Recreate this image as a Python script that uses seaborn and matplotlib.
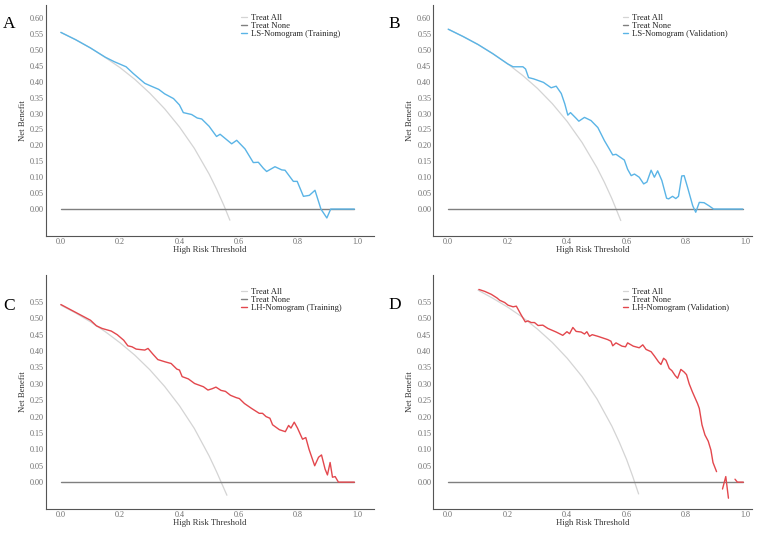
import numpy as np
import pandas as pd
import matplotlib
matplotlib.use("Agg")
import matplotlib.pyplot as plt
import seaborn as sns

# ---- data ------------------------------------------------------------------
# Treat All curves (per panel)
a_all_t = [0, 0.05, 0.1, 0.15, 0.2, 0.25, 0.3, 0.35, 0.4, 0.45, 0.5, 0.525, 0.55, 0.57]
a_all_nb = [0.555, 0.532, 0.506, 0.476, 0.444, 0.407, 0.364, 0.315, 0.258, 0.191, 0.110, 0.063, 0.011, -0.035]
b_all_t = [0, 0.05, 0.1, 0.15, 0.2, 0.25, 0.3, 0.35, 0.4, 0.45, 0.5, 0.525, 0.55, 0.58]
b_all_nb = [0.565, 0.542, 0.517, 0.488, 0.456, 0.420, 0.379, 0.331, 0.275, 0.209, 0.130, 0.084, 0.033, -0.036]
c_all_t = [0, 0.05, 0.1, 0.15, 0.2, 0.25, 0.3, 0.35, 0.4, 0.45, 0.5, 0.525, 0.56]
c_all_nb = [0.540, 0.516, 0.489, 0.459, 0.425, 0.387, 0.343, 0.292, 0.233, 0.164, 0.080, 0.032, -0.040]
d_all_t = [0.1, 0.15, 0.2, 0.25, 0.3, 0.35, 0.4, 0.45, 0.5, 0.55, 0.575, 0.6, 0.62, 0.64]
d_all_nb = [0.586, 0.561, 0.534, 0.503, 0.467, 0.426, 0.378, 0.322, 0.254, 0.171, 0.122, 0.068, 0.018, -0.036]

# Treat None
none_t = [0, 0.99]
none_nb = [0, 0]

# LS-Nomogram (Training)
a_t = [0, 0.05, 0.1, 0.15, 0.18, 0.2, 0.22, 0.244, 0.283, 0.3, 0.33, 0.35, 0.38, 0.4, 0.413,
       0.441, 0.46, 0.475, 0.5, 0.525, 0.537, 0.576, 0.593, 0.621, 0.649, 0.666, 0.683, 0.694,
       0.722, 0.745, 0.756, 0.784, 0.797, 0.818, 0.838, 0.857, 0.877, 0.897, 0.91, 0.95, 0.99]
a_nb = [0.555, 0.532, 0.506, 0.477, 0.463, 0.455, 0.447, 0.426, 0.395, 0.388, 0.376, 0.362, 0.347,
        0.327, 0.303, 0.297, 0.286, 0.283, 0.26, 0.228, 0.235, 0.205, 0.216, 0.189, 0.146, 0.147,
        0.128, 0.118, 0.133, 0.123, 0.122, 0.087, 0.087, 0.040, 0.043, 0.059, 0.0, -0.028, 0.0, 0.0, 0.0]

# LS-Nomogram (Validation)
b_t = [0, 0.05, 0.1, 0.15, 0.2, 0.218, 0.251, 0.26, 0.27, 0.287, 0.305, 0.32, 0.346, 0.363, 0.38,
       0.392, 0.402, 0.411, 0.43, 0.439, 0.458, 0.48, 0.503, 0.525, 0.542, 0.553, 0.564, 0.592,
       0.603, 0.615, 0.626, 0.642, 0.657, 0.668, 0.682, 0.693, 0.704, 0.718, 0.734, 0.741, 0.754,
       0.765, 0.774, 0.785, 0.793, 0.804, 0.822, 0.832, 0.844, 0.86, 0.877, 0.892, 0.95, 0.99]
b_nb = [0.565, 0.542, 0.517, 0.488, 0.456, 0.447, 0.447, 0.44, 0.413, 0.409, 0.403, 0.398, 0.381,
        0.386, 0.363, 0.33, 0.295, 0.303, 0.285, 0.276, 0.288, 0.278, 0.256, 0.215, 0.188, 0.17,
        0.172, 0.154, 0.125, 0.105, 0.11, 0.1, 0.079, 0.085, 0.122, 0.1, 0.12, 0.09, 0.034, 0.032,
        0.04, 0.033, 0.04, 0.104, 0.105, 0.07, 0.01, -0.01, 0.021, 0.02, 0.01, 0.0, 0.0, 0.0]

# LH-Nomogram (Training)
c_t = [0, 0.05, 0.1, 0.12, 0.139, 0.17, 0.19, 0.212, 0.226, 0.24, 0.254, 0.283, 0.294, 0.31, 0.327,
       0.352, 0.372, 0.391, 0.4, 0.409, 0.43, 0.451, 0.481, 0.496, 0.51, 0.523, 0.54, 0.555, 0.572,
       0.591, 0.602, 0.619, 0.643, 0.669, 0.68, 0.692, 0.705, 0.714, 0.737, 0.757, 0.768, 0.776,
       0.787, 0.798, 0.815, 0.826, 0.837, 0.856, 0.869, 0.879, 0.891, 0.899, 0.908, 0.916, 0.925,
       0.936, 0.97, 0.99]
c_nb = [0.542, 0.518, 0.494, 0.477, 0.469, 0.461, 0.45, 0.433, 0.416, 0.413, 0.406, 0.403, 0.408,
        0.391, 0.374, 0.367, 0.362, 0.345, 0.342, 0.322, 0.315, 0.301, 0.291, 0.281, 0.285, 0.29,
        0.28, 0.277, 0.265, 0.258, 0.255, 0.24, 0.225, 0.21, 0.21, 0.2, 0.195, 0.175, 0.16, 0.154,
        0.173, 0.165, 0.183, 0.165, 0.131, 0.136, 0.1, 0.05, 0.076, 0.083, 0.04, 0.022, 0.06, 0.015,
        0.017, 0.0, 0.0, 0.0]

# LH-Nomogram (Validation) -- curve has gaps, seg marks the pieces
d_t = [0.103, 0.123, 0.145, 0.164, 0.173, 0.19, 0.201, 0.218, 0.229, 0.246, 0.259, 0.268, 0.279,
       0.29, 0.302, 0.318, 0.335, 0.363, 0.385, 0.399, 0.408, 0.419, 0.43, 0.447, 0.458, 0.466,
       0.475, 0.484, 0.503, 0.536, 0.547, 0.553, 0.564, 0.584, 0.596, 0.603, 0.622, 0.642, 0.654,
       0.665, 0.682, 0.693, 0.707, 0.715, 0.724, 0.732, 0.743, 0.752, 0.763, 0.771, 0.782, 0.793,
       0.801, 0.81, 0.821, 0.838, 0.844, 0.853, 0.863, 0.874, 0.883, 0.89, 0.902,
       0.922, 0.933, 0.942,
       0.964, 0.972, 0.992]
d_nb = [0.588, 0.582, 0.573, 0.562, 0.555, 0.548, 0.54, 0.535, 0.537, 0.509, 0.489, 0.492, 0.487,
        0.487, 0.478, 0.479, 0.469, 0.458, 0.448, 0.459, 0.453, 0.472, 0.46, 0.458, 0.452, 0.459,
        0.445, 0.45, 0.445, 0.435, 0.43, 0.416, 0.425, 0.415, 0.413, 0.425, 0.415, 0.41, 0.419,
        0.405, 0.398, 0.385, 0.367, 0.359, 0.378, 0.372, 0.347, 0.34, 0.325, 0.317, 0.344, 0.336,
        0.328, 0.3, 0.275, 0.24, 0.225, 0.175, 0.144, 0.125, 0.098, 0.06, 0.032,
        -0.021, 0.017, -0.049,
        0.009, 0.0, 0.0]
d_seg = [0] * 63 + [1] * 3 + [2] * 3

BLUE = "#5AB4E6"
RED = "#E3474D"

# letter, treat-all, model, segments, legend label, colour, axes rect, top tick, letter pos
panels = [
    ("A", a_all_t, a_all_nb, a_t, a_nb, None, "LS-Nomogram (Training)", BLUE,
     [0.060, 0.557, 0.428, 0.433], 0.60, (0.004, 0.955)),
    ("B", b_all_t, b_all_nb, b_t, b_nb, None, "LS-Nomogram (Validation)", BLUE,
     [0.565, 0.557, 0.415, 0.433], 0.60, (0.507, 0.955)),
    ("C", c_all_t, c_all_nb, c_t, c_nb, None, "LH-Nomogram (Training)", RED,
     [0.060, 0.045, 0.428, 0.439], 0.55, (0.004, 0.426)),
    ("D", d_all_t, d_all_nb, d_t, d_nb, d_seg, "LH-Nomogram (Validation)", RED,
     [0.565, 0.045, 0.415, 0.439], 0.55, (0.507, 0.428)),
]

sns.set_style("white")
plt.rcParams["font.family"] = ["Liberation Serif", "DejaVu Serif"]

fig = plt.figure(figsize=(7.67, 5.33), dpi=100)

for letter, all_t, all_nb, mt, mnb, seg, label, color, rect, ytop, lpos in panels:
    ax = fig.add_axes(rect)

    sns.lineplot(x=all_t, y=all_nb, ax=ax, color="#d4d4d4", linewidth=0.9, label="Treat All")
    sns.lineplot(x=none_t, y=none_nb, ax=ax, color="#7f7f7f", linewidth=1.0, label="Treat None")

    df = pd.DataFrame({"t": mt, "nb": mnb, "seg": seg if seg is not None else [0] * len(mt)})
    first = True
    for _, g in df.groupby("seg"):
        sns.lineplot(data=g, x="t", y="nb", ax=ax, color=color, linewidth=1.0,
                     sort=False, estimator=None, label=label if first else None)
        first = False

    ax.set_xlim(-0.05, 1.057 if rect[2] > 0.42 else 1.02)
    if ytop == 0.60:
        ax.set_ylim(-0.085, 0.64)
    else:
        ax.set_ylim(-0.082, 0.632)
    xt = np.arange(0, 1.01, 0.2)
    yt = np.arange(0, ytop + 0.001, 0.05)
    ax.set_xticks(xt)
    ax.set_yticks(yt)
    ax.set_xticklabels([f"{v:.1f}" for v in xt])
    ax.set_yticklabels([f"{v:.2f}" for v in yt])
    ax.tick_params(axis="both", length=0, labelsize=5.9, labelcolor="#6e6e6e", pad=1.5)

    for s in ["top", "right"]:
        ax.spines[s].set_visible(False)
    for s in ["left", "bottom"]:
        ax.spines[s].set_color("#555555")
        ax.spines[s].set_linewidth(0.8)

    ax.set_xlabel("High Risk Threshold", fontsize=6.3, color="#333333", labelpad=0)
    ax.set_ylabel("Net Benefit", fontsize=6.3, color="#333333", labelpad=2)

    ax.legend(loc="upper left", bbox_to_anchor=(0.595, 0.962 if ytop == 0.60 else 0.945),
              frameon=False, fontsize=6.2, handlelength=0.6, handletextpad=0.5,
              labelspacing=0.0, borderpad=0, borderaxespad=0)

    fig.text(lpos[0], lpos[1], letter, fontsize=12.5, color="black", ha="left", va="center")

fig.savefig("out.png", dpi=100)
